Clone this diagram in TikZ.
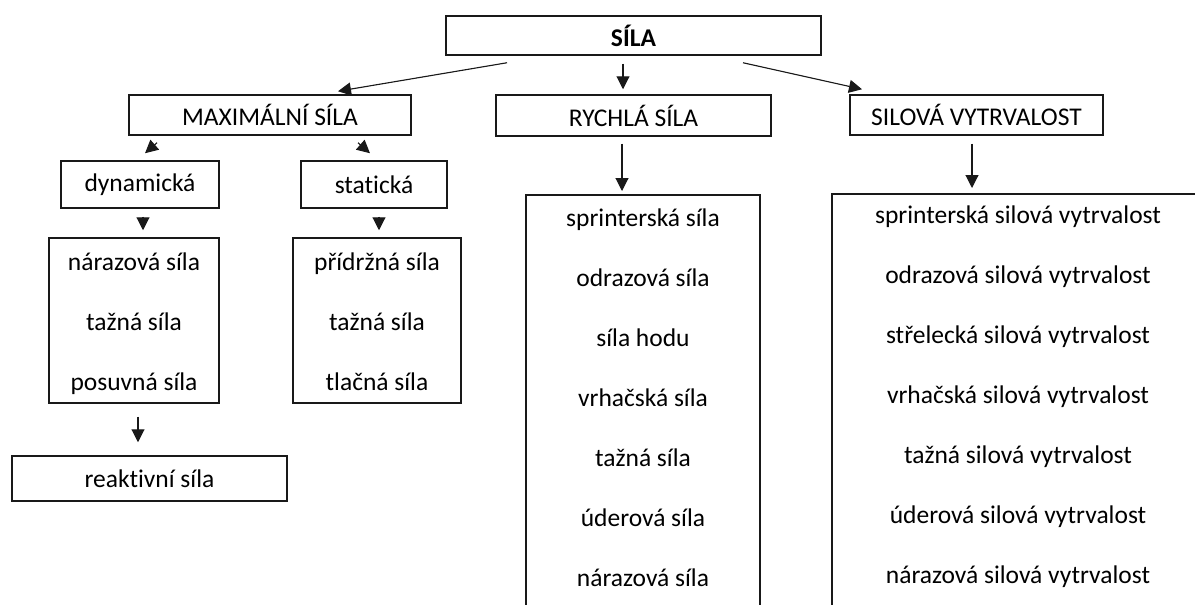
\documentclass[tikz,border=0pt]{standalone}
\usepackage{fontspec}
\setmainfont{Carlito}[Ligatures=NoCommon]
\usetikzlibrary{arrows.meta,calc}

\tikzset{
  box/.style={draw=black!90, line width=1.5pt, inner sep=0pt, font=\fontsize{25.5}{30}\selectfont},
  item/.style={anchor=base, inner sep=0pt, font=\fontsize{25.5}{30}\selectfont},
  arr/.style={-{Triangle[length=13pt,width=13pt]}, line width=1.1pt, draw=black!90, fill=black!90}
}

\begin{document}
\begin{tikzpicture}[x=1pt,y=-1pt]
    \path[use as bounding box, fill=white] (0,0) rectangle (1195,605);
    % top level
    \node[box, minimum width=375, minimum height=39] (sila) at (633.5,35.5) {\textbf{SÍLA}};
    \node[box, minimum width=282, minimum height=40] (maxi) at (270,115) {MAXIMÁLNÍ SÍLA};
    \node[box, minimum width=275, minimum height=41] (rychla) at (633.5,115.5) {RYCHLÁ SÍLA};
    \node[box, minimum width=253, minimum height=40] (silova) at (976.5,115) {SILOVÁ VYTRVALOST};
    % maximalni sila
    \node[box, minimum width=158, minimum height=47] (dyn) at (140,184.5) {dynamická};
    \node[box, minimum width=146, minimum height=47] (stat) at (374,184.5) {statická};
    \node[box, minimum width=170, minimum height=165] (dynlist) at (134,320.5) {};
    \node[box, minimum width=168, minimum height=165] (statlist) at (377,320.5) {};
    \node[box, minimum width=275, minimum height=45] (reakt) at (149.5,478.5) {reaktivní síla};
    \foreach \t [count=\i from 0] in {nárazová síla, tažná síla, posuvná síla}
        \node[item] (d\i) at (134,{270+60*\i}) {\t};
    \foreach \t [count=\i from 0] in {přídržná síla, tažná síla, tlačná síla}
        \node[item] (s\i) at (377,{270+60*\i}) {\t};
    % long lists
    \node[box, anchor=north, minimum width=234, minimum height=460] (rlist) at (643,194) {};
    \node[box, anchor=north, minimum width=372, minimum height=460] (vlist) at (1018,193) {};
    \foreach \t [count=\i from 0] in {sprinterská síla, odrazová síla, síla hodu, vrhačská síla,
        tažná síla, úderová síla, nárazová síla}
        \node[item] (r\i) at (643,{226+60*\i}) {\t};
    \foreach \t [count=\i from 0] in {sprinterská silová vytrvalost, odrazová silová vytrvalost,
        střelecká silová vytrvalost, vrhačská silová vytrvalost, tažná silová vytrvalost,
        úderová silová vytrvalost, nárazová silová vytrvalost}
        \node[item] (v\i) at (1018,{223+60*\i}) {\t};
    % arrows
    \draw[arr] ($(sila.south)+(-126.5,7)$) -- ($(maxi.north)+(68,-3)$);
    \draw[arr] ($(sila.south)+(-10.5,8)$) -- ($(rychla.north)+(-10.5,-5)$);
    \draw[arr] ($(sila.south)+(109.5,7)$) -- ($(silova.north)+(-114.5,-5)$);
    \draw[arr] ($(maxi.south)+(-113,7)$) -- ($(dyn.north)+(5,-7)$);
    \draw[arr] ($(maxi.south)+(88,7)$) -- ($(stat.north)+(-4,-7)$);
    \draw[arr] ($(dyn.south)+(3,8)$) -- ($(dynlist.north)+(9,-7)$);
    \draw[arr] ($(stat.south)+(5,8)$) -- ($(statlist.north)+(2,-7)$);
    \draw[arr] ($(dynlist.south)+(4,13)$) -- ($(reakt.north)+(-11.5,-13)$);
    \draw[arr] ($(rychla.south)+(-11.5,7)$) -- ($(rlist.north)+(-21,-3)$);
    \draw[arr] ($(silova.south)+(-4.5,8)$) -- ($(vlist.north)+(-46,-5)$);
\end{tikzpicture}
\end{document}
